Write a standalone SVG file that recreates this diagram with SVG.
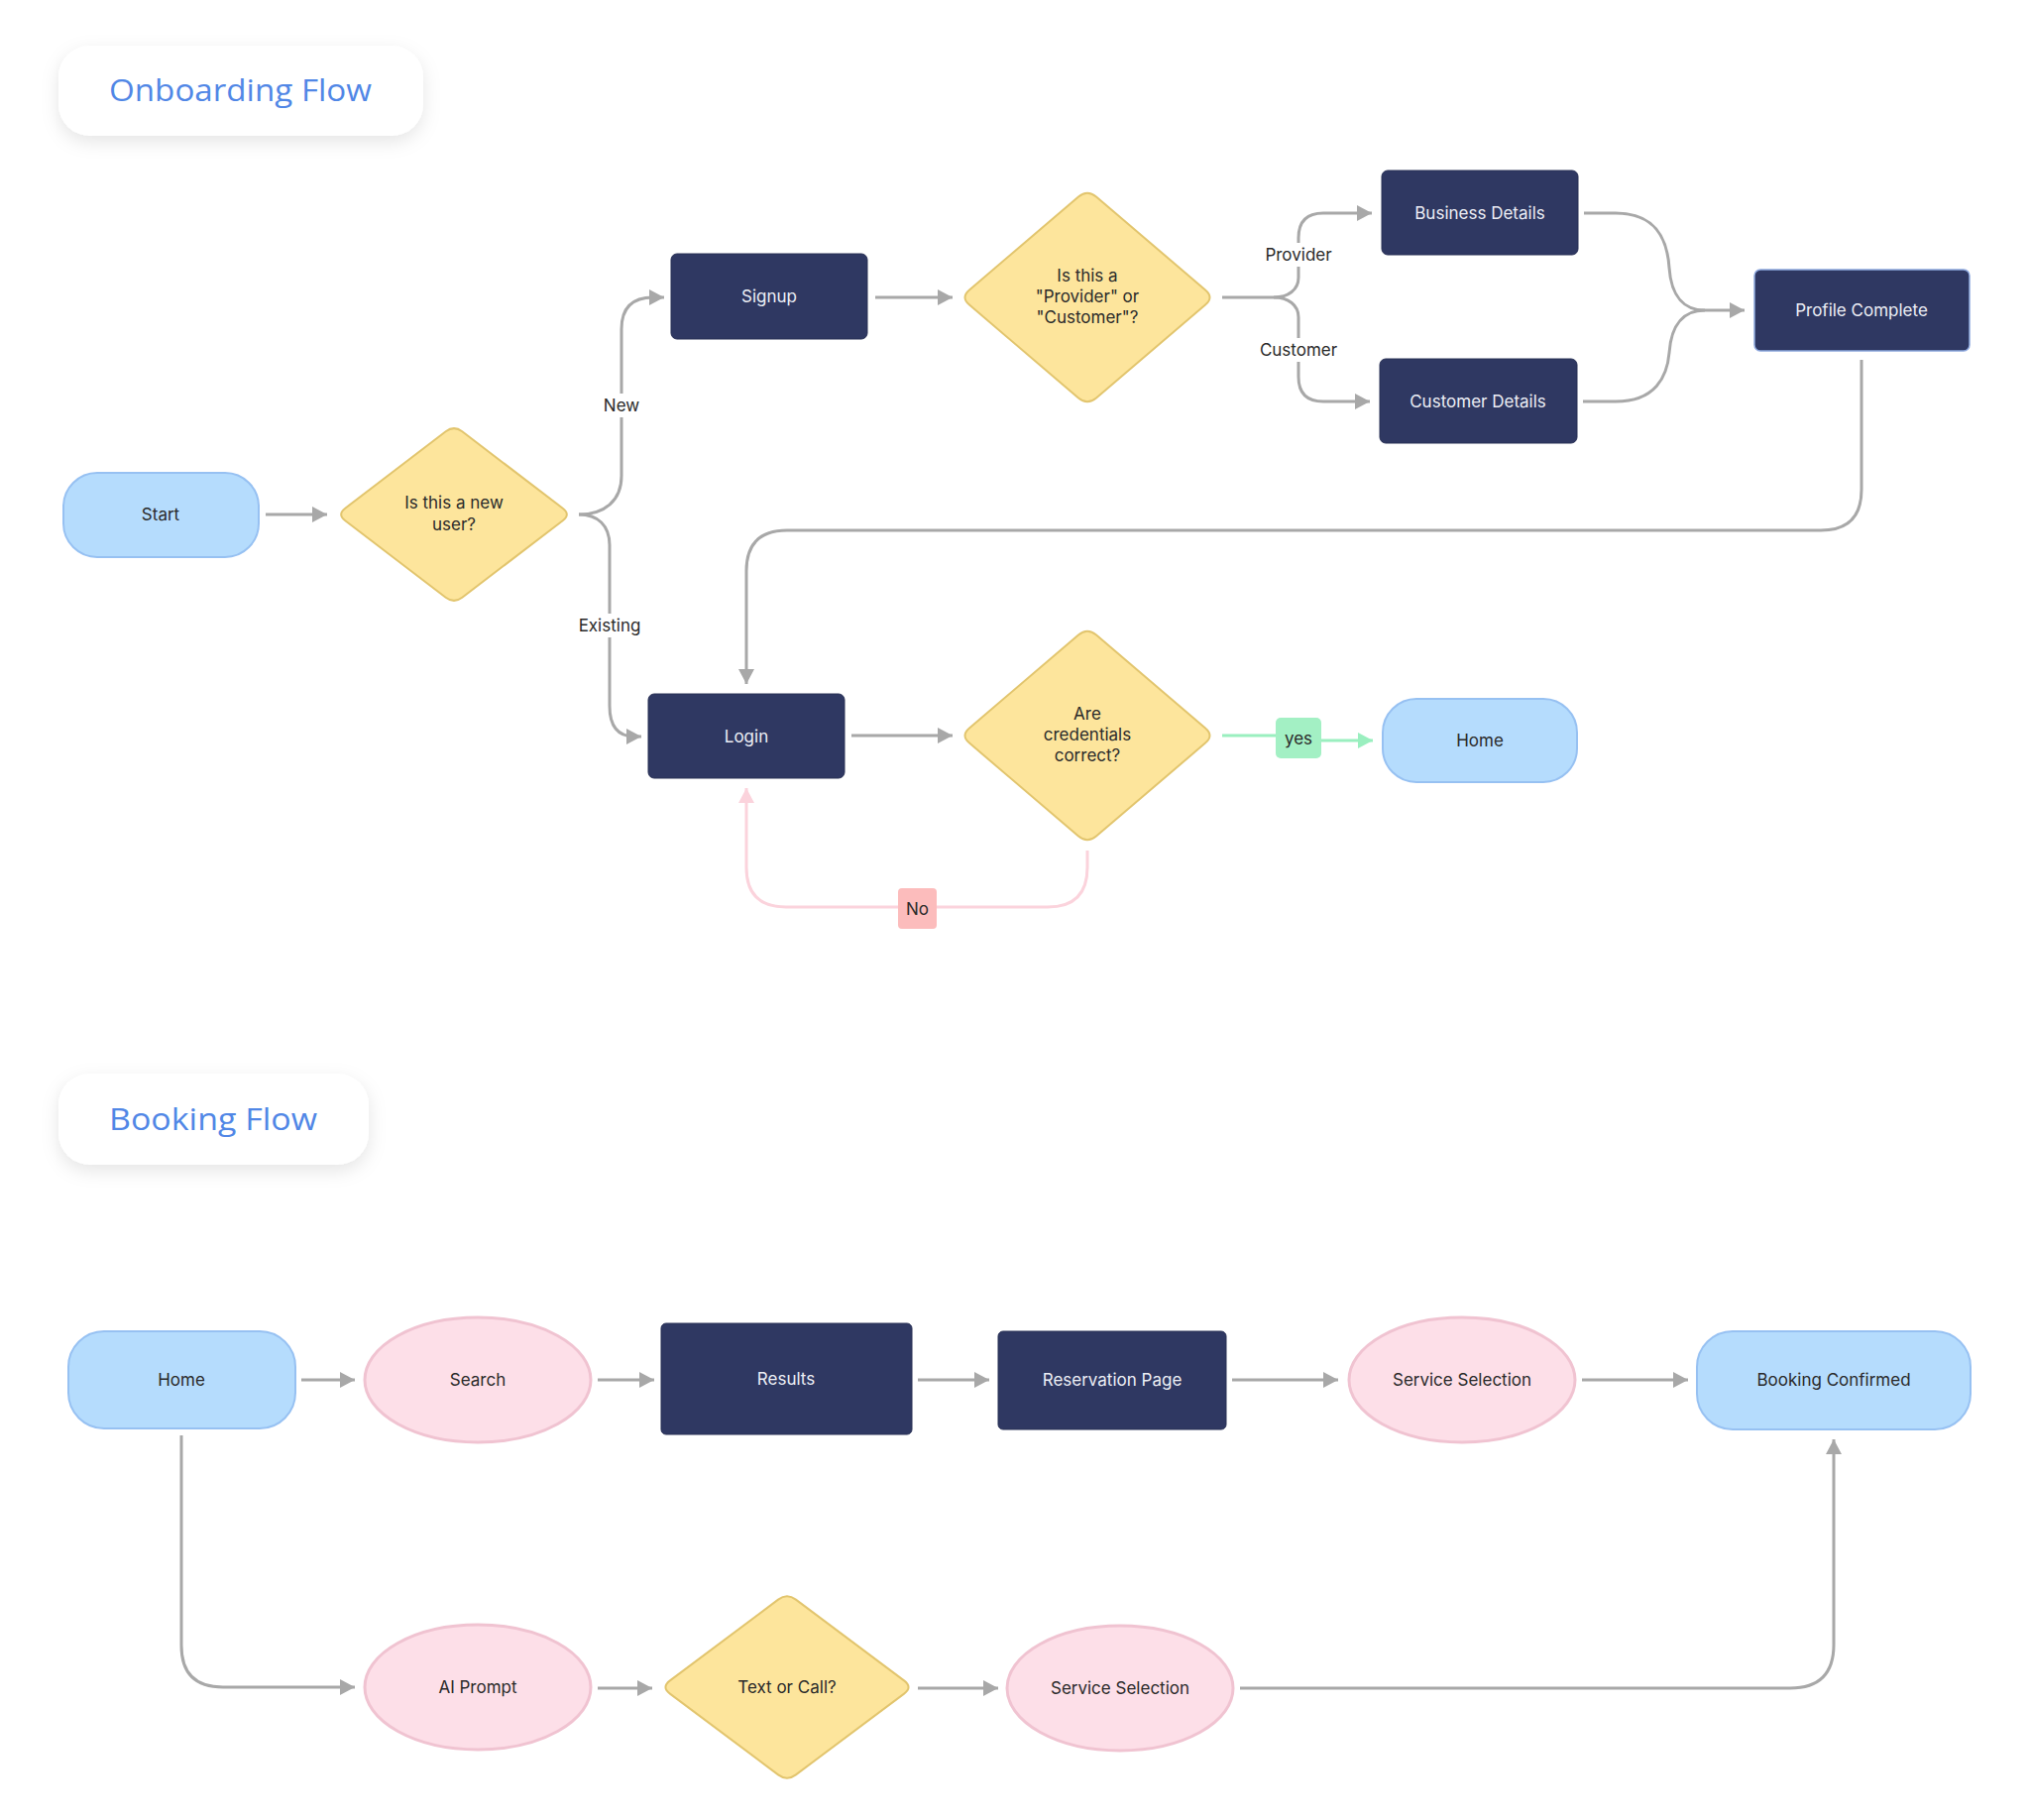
<svg xmlns="http://www.w3.org/2000/svg" width="2048" height="1836" viewBox="0 0 2048 1836">
<defs>
<filter id="sh" x="-20%" y="-30%" width="140%" height="170%">
<feDropShadow dx="0" dy="6" stdDeviation="9" flood-color="#000" flood-opacity="0.10"/>
</filter>
<marker id="ag" markerUnits="userSpaceOnUse" markerWidth="16" markerHeight="16" refX="15" refY="8" orient="auto"><path d="M0,0 L15,8 L0,16 z" fill="#a8a8a8"/></marker>
<marker id="agr" markerUnits="userSpaceOnUse" markerWidth="16" markerHeight="16" refX="15" refY="8" orient="auto"><path d="M0,0 L15,8 L0,16 z" fill="#9aefbf"/></marker>
<marker id="apk" markerUnits="userSpaceOnUse" markerWidth="16" markerHeight="16" refX="15" refY="8" orient="auto"><path d="M0,0 L15,8 L0,16 z" fill="#fbd3dc"/></marker>
</defs>
<style>
.title{font-family:"Open Sans","Liberation Sans",sans-serif;font-size:31px;font-weight:500;fill:#5187e6}
.tbox{fill:#fff}
.t{font-family:Inter,"Liberation Sans",sans-serif;font-size:17px;text-anchor:middle;fill:#2a2a2a}
.tw{font-family:Inter,"Liberation Sans",sans-serif;font-size:17px;text-anchor:middle;fill:#eceef5}
.lbl{font-family:Inter,"Liberation Sans",sans-serif;font-size:17px;text-anchor:middle;fill:#2a2a2a}
.navy{fill:#2f3862;stroke:#283055;stroke-width:1}
.pill{fill:#b5dcfd;stroke:#97c1f2;stroke-width:2}
.dia{fill:#fde59c;stroke:#e2c56e;stroke-width:2}
.ell{fill:#fddfe8;stroke:#f0c3d1;stroke-width:3}
.c{fill:none;stroke:#a8a8a8;stroke-width:3;marker-end:url(#ag)}
.cn{fill:none;stroke:#a8a8a8;stroke-width:3}
</style>
<rect width="2048" height="1836" fill="#fff"/>

<g id="title-onboarding">
<rect class="tbox" x="59" y="46" width="368" height="91" rx="32" filter="url(#sh)"/>
<text class="title" x="110" y="102" textLength="265" lengthAdjust="spacingAndGlyphs">Onboarding Flow</text>
</g>
<g id="title-booking">
<rect class="tbox" x="59" y="1083" width="313" height="92" rx="32" filter="url(#sh)"/>
<text class="title" x="110" y="1140" textLength="210" lengthAdjust="spacingAndGlyphs">Booking Flow</text>
</g>

<g id="connectors">
<path class="c" d="M268,519 L330,519"/>
<path class="c" d="M584,519 C610,519 627,505 627,480 L627,332 Q627,300 659,300 L670,300"/>
<path class="c" d="M584,519 C603,519 615,530 615,550 L615,712 Q615,743 640,743 L647,743"/>
<path class="c" d="M883,300 L961,300"/>
<path class="c" d="M1233,300 L1285,300 C1300,300 1310,292 1310,280 L1310,240 Q1310,215 1335,215 L1384,215"/>
<path class="c" d="M1285,300 C1300,300 1310,308 1310,320 L1310,380 Q1310,405 1335,405 L1382,405"/>
<path class="c" d="M1598,215 L1630,215 C1670,215 1682,240 1684,270 C1686,300 1700,313 1720,313 L1760,313"/>
<path class="cn" d="M1597,405 L1630,405 C1670,405 1682,380 1684,356 C1686,326 1700,313 1720,313"/>
<path class="c" d="M1878,363 L1878,494 Q1878,535 1837,535 L794,535 Q753,535 753,576 L753,690"/>
<path class="c" d="M859,742 L961,742"/>
<path fill="none" stroke="#9aefbf" stroke-width="3" marker-end="url(#agr)" d="M1233,742 L1309,742 L1309,747 L1385,747"/>
<path fill="none" stroke="#fbd3dc" stroke-width="3" marker-end="url(#apk)" d="M1097,858 L1097,875 Q1097,915 1057,915 L793,915 Q753,915 753,875 L753,795"/>
<path class="c" d="M304,1392 L358,1392"/>
<path class="c" d="M603,1392 L660,1392"/>
<path class="c" d="M926,1392 L998,1392"/>
<path class="c" d="M1243,1392 L1350,1392"/>
<path class="c" d="M1596,1392 L1703,1392"/>
<path class="c" d="M183,1448 L183,1660 Q183,1702 225,1702 L358,1702"/>
<path class="c" d="M603,1703 L658,1703"/>
<path class="c" d="M926,1703 L1007,1703"/>
<path class="c" d="M1251,1703 L1806,1703 Q1850,1703 1850,1659 L1850,1452"/>
<rect x="600" y="397" width="54" height="24" fill="#fff"/>
<text class="lbl" x="627" y="415">New</text>
<rect x="580" y="619" width="70" height="24" fill="#fff"/>
<text class="lbl" x="615" y="637">Existing</text>
<rect x="1272" y="245" width="76" height="24" fill="#fff"/>
<text class="lbl" x="1310" y="263">Provider</text>
<rect x="1268" y="341" width="82" height="24" fill="#fff"/>
<text class="lbl" x="1310" y="359">Customer</text>
<rect x="1287" y="724" width="46" height="41" rx="5" fill="#a3f0c4"/>
<text class="lbl" x="1310" y="751">yes</text>
<rect x="906" y="896" width="39" height="41" rx="4" fill="#fcbcbc"/>
<text class="lbl" x="925.5" y="923">No</text>
</g>

<g id="start"><rect class="pill" x="64" y="477" width="197" height="85" rx="34"/><text class="t" x="162" y="525">Start</text></g>
<g id="new-user"><path class="dia" d="M466.3,435.3 L567.7,512.7 Q576,519 567.7,525.3 L466.3,602.7 Q458,609 449.7,602.7 L348.3,525.3 Q340,519 348.3,512.7 L449.7,435.3 Q458,429 466.3,435.3 Z"/><text class="t" x="458" y="513">Is this a new</text><text class="t" x="458" y="535">user?</text></g>
<g id="signup"><rect class="navy" x="677" y="256" width="198" height="86" rx="6"/><text class="tw" x="776" y="305">Signup</text></g>
<g id="provider-customer"><path class="dia" d="M1106,198.6 L1216,292.4 Q1225,300 1216,307.6 L1106,401.4 Q1097,409 1088,401.4 L978,307.6 Q969,300 978,292.4 L1088,198.6 Q1097,191 1106,198.6 Z"/><text class="t" x="1097" y="284">Is this a</text><text class="t" x="1097" y="305">"Provider" or</text><text class="t" x="1097" y="326">"Customer"?</text></g>
<g id="business-details"><rect class="navy" x="1394" y="172" width="198" height="85" rx="6"/><text class="tw" x="1493" y="221">Business Details</text></g>
<g id="customer-details"><rect class="navy" x="1392" y="362" width="199" height="85" rx="6"/><text class="tw" x="1491" y="411">Customer Details</text></g>
<g id="profile-complete"><rect x="1770" y="272" width="217" height="82" rx="6" fill="#2f3862" stroke="#8fa9de" stroke-width="1.5"/><text class="tw" x="1878" y="319">Profile Complete</text></g>
<g id="login"><rect class="navy" x="654" y="700" width="198" height="85" rx="6"/><text class="tw" x="753" y="749">Login</text></g>
<g id="credentials"><path class="dia" d="M1106,640.6 L1216,734.4 Q1225,742 1216,749.6 L1106,843.4 Q1097,851 1088,843.4 L978,749.6 Q969,742 978,734.4 L1088,640.6 Q1097,633 1106,640.6 Z"/><text class="t" x="1097" y="726">Are</text><text class="t" x="1097" y="747">credentials</text><text class="t" x="1097" y="768">correct?</text></g>
<g id="home-1"><rect class="pill" x="1395" y="705" width="196" height="84" rx="34"/><text class="t" x="1493" y="753">Home</text></g>

<g id="home-2"><rect class="pill" x="69" y="1343" width="229" height="98" rx="36"/><text class="t" x="183" y="1398">Home</text></g>
<g id="search"><ellipse class="ell" cx="482" cy="1392" rx="114" ry="63"/><text class="t" x="482" y="1398">Search</text></g>
<g id="results"><rect class="navy" x="667" y="1335" width="253" height="112" rx="5"/><text class="tw" x="793" y="1397">Results</text></g>
<g id="reservation"><rect class="navy" x="1007" y="1343" width="230" height="99" rx="5"/><text class="tw" x="1122" y="1398">Reservation Page</text></g>
<g id="service-selection-1"><ellipse class="ell" cx="1475" cy="1392" rx="114" ry="63"/><text class="t" x="1475" y="1398">Service Selection</text></g>
<g id="booking-confirmed"><rect class="pill" x="1712" y="1343" width="276" height="99" rx="36"/><text class="t" x="1850" y="1398">Booking Confirmed</text></g>
<g id="ai-prompt"><ellipse class="ell" cx="482" cy="1702" rx="114" ry="63"/><text class="t" x="482" y="1708">AI Prompt</text></g>
<g id="text-or-call"><path class="dia" d="M802.9,1613.65 L912.1,1695.35 Q921,1702 912.1,1708.65 L802.9,1790.35 Q794,1797 785.1,1790.35 L675.9,1708.65 Q667,1702 675.9,1695.35 L785.1,1613.65 Q794,1607 802.9,1613.65 Z"/><text class="t" x="794" y="1708">Text or Call?</text></g>
<g id="service-selection-2"><ellipse class="ell" cx="1130" cy="1703" rx="114" ry="63"/><text class="t" x="1130" y="1709">Service Selection</text></g>
</svg>
